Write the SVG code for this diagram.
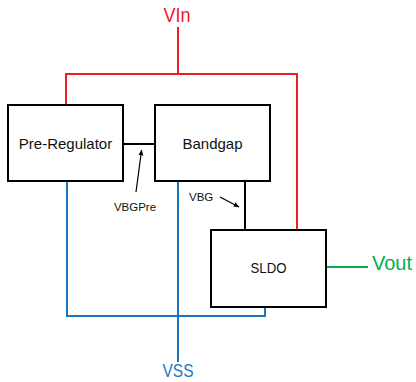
<svg xmlns="http://www.w3.org/2000/svg" width="416" height="382" viewBox="0 0 416 382">
<defs>
<style>
.box{fill:#fff;stroke:#000;stroke-width:2}
.lbl{font-family:"Liberation Sans",Arial,sans-serif;font-size:15px;fill:#111;text-anchor:middle}
.small{font-family:"Liberation Sans",Arial,sans-serif;font-size:11.5px;fill:#111}
.pin{font-family:"Liberation Sans",Arial,sans-serif;font-size:20px}
.red{stroke:#ee1c25;stroke-width:2;fill:none}
.blue{stroke:#1a75c0;stroke-width:2;fill:none}
.green{stroke:#00b050;stroke-width:2;fill:none}
.blk{stroke:#000;stroke-width:2;fill:none}
.arr{stroke:#000;stroke-width:1.2;fill:none}
</style>
<marker id="ah" viewBox="0 0 10 10" refX="9" refY="5" markerWidth="6" markerHeight="6" orient="auto" markerUnits="userSpaceOnUse">
<path d="M0,1 L10,5 L0,9 z" fill="#000"/>
</marker>
</defs>
<rect width="416" height="382" fill="#fff"/>
<g id="connectors">
<polyline class="red" points="178,27 178,74"/>
<polyline class="red" points="66,105 66,74 297,74 297,230"/>
<polyline class="blue" points="67,181 67,316 265,316 265,307"/>
<polyline class="blue" points="178,181 178,362"/>
<line class="blk" x1="123" y1="144" x2="155" y2="144"/>
<line class="blk" x1="245" y1="181" x2="245" y2="230"/>
<line class="green" x1="326" y1="267" x2="368" y2="267"/>
<line class="arr" x1="136" y1="192" x2="141.6" y2="150" marker-end="url(#ah)"/>
<line class="arr" x1="220" y1="197" x2="239" y2="207" marker-end="url(#ah)"/>
<text class="small" x="135" y="211" text-anchor="middle">VBGPre</text>
<text class="small" x="189" y="201">VBG</text>
</g>
<g id="pre-regulator">
<rect class="box" x="8" y="105" width="115" height="76"/>
<text class="lbl" x="65.5" y="149">Pre-Regulator</text>
</g>
<g id="bandgap">
<rect class="box" x="155" y="105" width="115" height="76"/>
<text class="lbl" x="212.5" y="149">Bandgap</text>
</g>
<g id="sldo">
<rect class="box" x="211" y="230" width="115" height="77"/>
<text class="lbl" x="268.5" y="273" textLength="36" lengthAdjust="spacingAndGlyphs">SLDO</text>
</g>
<g id="vin">
<text class="pin" x="177" y="22" fill="#ee1c25" text-anchor="middle" textLength="27" lengthAdjust="spacingAndGlyphs">VIn</text>
</g>
<g id="vss">
<text class="pin" x="178" y="377" fill="#1a75c0" text-anchor="middle" style="font-size:18px" textLength="31" lengthAdjust="spacingAndGlyphs">VSS</text>
</g>
<g id="vout">
<text class="pin" x="372" y="270" fill="#00b050" textLength="40" lengthAdjust="spacingAndGlyphs">Vout</text>
</g>
</svg>
